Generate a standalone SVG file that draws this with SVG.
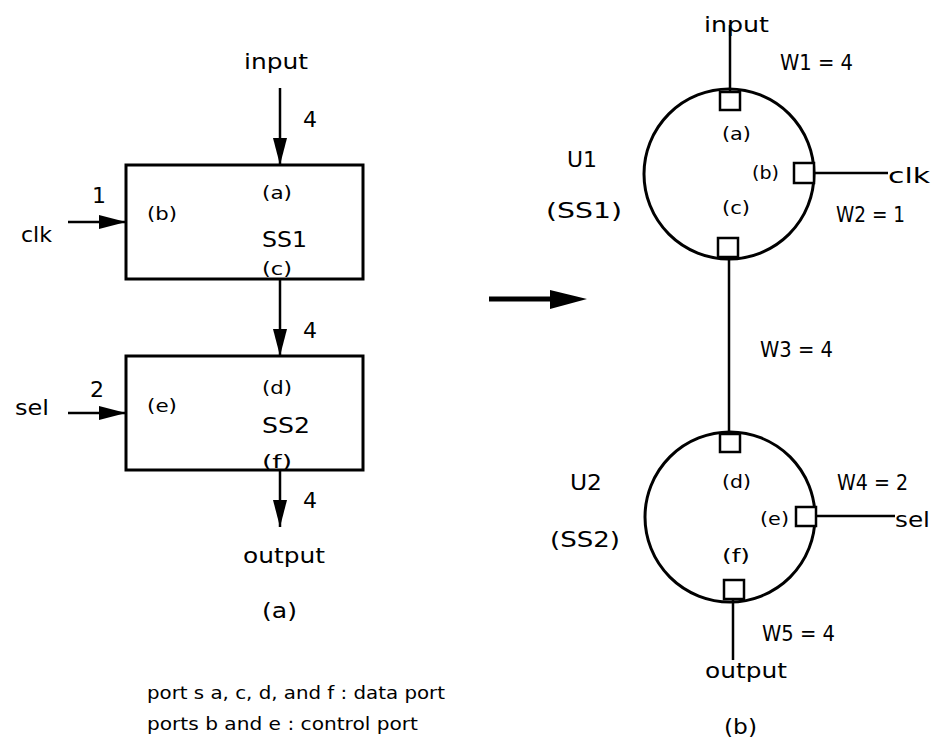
<svg xmlns="http://www.w3.org/2000/svg" width="935" height="742" viewBox="0 0 935 742">
<style>
  text { font-family: "DejaVu Sans", "Liberation Sans", sans-serif; fill: #000; }
  .lg { font-size: 22px; }
  .pt { font-size: 17px; }
  .fn { font-size: 18px; }
  .box { fill: none; stroke: #000; stroke-width: 3; }
  .circ { fill: none; stroke: #000; stroke-width: 3; }
  .sq { fill: #fff; stroke: #000; stroke-width: 2.5; }
  .ln { fill: none; stroke: #000; stroke-width: 2.5; }
  .arr { fill: none; stroke: #000; stroke-width: 2.5; marker-end: url(#ah); }
</style>
<defs>
  <marker id="ah" markerUnits="userSpaceOnUse" markerWidth="27" markerHeight="14" refX="27" refY="7" orient="auto">
    <path d="M0,0 L27,7 L0,14 Z" fill="#000"/>
  </marker>
</defs>
<rect width="935" height="742" fill="#fff"/>

<!-- (a) block diagram -->
<g id="SS1">
  <rect class="box" x="126" y="165" width="237" height="114"/>
  <text class="pt" x="262" y="199" textLength="30" lengthAdjust="spacingAndGlyphs">(a)</text>
  <text class="pt" x="147" y="220" textLength="30" lengthAdjust="spacingAndGlyphs">(b)</text>
  <text class="lg" x="262" y="247" textLength="45" lengthAdjust="spacingAndGlyphs">SS1</text>
  <text class="pt" x="262" y="275" textLength="30" lengthAdjust="spacingAndGlyphs">(c)</text>
</g>
<g id="SS2">
  <rect class="box" x="126" y="356" width="237" height="114"/>
  <text class="pt" x="262" y="394" textLength="30" lengthAdjust="spacingAndGlyphs">(d)</text>
  <text class="pt" x="147" y="412" textLength="30" lengthAdjust="spacingAndGlyphs">(e)</text>
  <text class="lg" x="262" y="433" textLength="48" lengthAdjust="spacingAndGlyphs">SS2</text>
  <text class="pt" x="262" y="468" textLength="30" lengthAdjust="spacingAndGlyphs">(f)</text>
</g>
<g id="left-labels">
  <text class="lg" x="244" y="69" textLength="64" lengthAdjust="spacingAndGlyphs">input</text>
  <text class="lg" x="303" y="127">4</text>
  <text class="lg" x="92" y="203">1</text>
  <text class="lg" x="21" y="242" textLength="31" lengthAdjust="spacingAndGlyphs">clk</text>
  <text class="lg" x="303" y="338">4</text>
  <text class="lg" x="90" y="397">2</text>
  <text class="lg" x="15" y="415" textLength="34" lengthAdjust="spacingAndGlyphs">sel</text>
  <text class="lg" x="303" y="508">4</text>
  <text class="lg" x="243" y="563" textLength="82" lengthAdjust="spacingAndGlyphs">output</text>
  <text class="lg" x="262" y="618" textLength="35" lengthAdjust="spacingAndGlyphs">(a)</text>
  <text class="fn" x="147" y="699" textLength="298" lengthAdjust="spacingAndGlyphs">port s a, c, d, and f : data port</text>
  <text class="fn" x="147" y="730" textLength="271" lengthAdjust="spacingAndGlyphs">ports b and e : control port</text>
</g>
<g id="left-connectors">
  <line class="arr" x1="280" y1="88" x2="280" y2="165"/>
  <line class="arr" x1="68" y1="222" x2="126" y2="222"/>
  <line class="arr" x1="280" y1="279" x2="280" y2="356"/>
  <line class="arr" x1="68" y1="413" x2="126" y2="413"/>
  <line class="arr" x1="280" y1="470" x2="280" y2="527"/>
</g>

<!-- transformation arrow -->
<g id="transform-arrow">
  <line x1="489" y1="299" x2="552" y2="299" stroke="#000" stroke-width="5"/>
  <polygon points="550,290 587,299 550,309" fill="#000"/>
</g>

<!-- (b) graph -->
<g id="connectors">
  <line class="ln" x1="730" y1="25" x2="730" y2="92"/>
  <line class="ln" x1="814" y1="173" x2="888" y2="173"/>
  <line class="ln" x1="729" y1="257" x2="729" y2="433"/>
  <line class="ln" x1="816" y1="516" x2="895" y2="516"/>
  <line class="ln" x1="733" y1="599" x2="733" y2="660"/>
</g>
<g id="U1">
  <circle class="circ" cx="729" cy="174" r="85"/>
  <rect class="sq" x="720" y="92" width="20" height="18"/>
  <rect class="sq" x="794" y="163" width="20" height="20"/>
  <rect class="sq" x="718" y="238" width="20" height="19"/>
  <text class="pt" x="722" y="140" textLength="29" lengthAdjust="spacingAndGlyphs">(a)</text>
  <text class="pt" x="752" y="179" textLength="27" lengthAdjust="spacingAndGlyphs">(b)</text>
  <text class="pt" x="722" y="214" textLength="28" lengthAdjust="spacingAndGlyphs">(c)</text>
  <text class="lg" x="567" y="167" textLength="30" lengthAdjust="spacingAndGlyphs">U1</text>
  <text class="lg" x="546" y="218" textLength="76" lengthAdjust="spacingAndGlyphs">(SS1)</text>
</g>
<g id="U2">
  <circle class="circ" cx="730" cy="517" r="85"/>
  <rect class="sq" x="720" y="434" width="20" height="18"/>
  <rect class="sq" x="796" y="507" width="20" height="19"/>
  <rect class="sq" x="724" y="580" width="20" height="19"/>
  <text class="pt" x="722" y="488" textLength="29" lengthAdjust="spacingAndGlyphs">(d)</text>
  <text class="pt" x="760" y="525" textLength="29" lengthAdjust="spacingAndGlyphs">(e)</text>
  <text class="pt" x="722" y="562" textLength="28" lengthAdjust="spacingAndGlyphs">(f)</text>
  <text class="lg" x="570" y="490" textLength="32" lengthAdjust="spacingAndGlyphs">U2</text>
  <text class="lg" x="550" y="547" textLength="70" lengthAdjust="spacingAndGlyphs">(SS2)</text>
</g>
<g id="right-labels">
  <text class="lg" x="704" y="32" textLength="65" lengthAdjust="spacingAndGlyphs">input</text>
  <text class="lg" x="780" y="70" textLength="73" lengthAdjust="spacingAndGlyphs">W1 = 4</text>
  <text class="lg" x="888" y="183" textLength="42" lengthAdjust="spacingAndGlyphs">clk</text>
  <text class="lg" x="836" y="222" textLength="69" lengthAdjust="spacingAndGlyphs">W2 = 1</text>
  <text class="lg" x="760" y="357" textLength="73" lengthAdjust="spacingAndGlyphs">W3 = 4</text>
  <text class="lg" x="837" y="490" textLength="71" lengthAdjust="spacingAndGlyphs">W4 = 2</text>
  <text class="lg" x="895" y="527" textLength="35" lengthAdjust="spacingAndGlyphs">sel</text>
  <text class="lg" x="762" y="641" textLength="73" lengthAdjust="spacingAndGlyphs">W5 = 4</text>
  <text class="lg" x="705" y="678" textLength="82" lengthAdjust="spacingAndGlyphs">output</text>
  <text class="lg" x="724" y="734" textLength="33" lengthAdjust="spacingAndGlyphs">(b)</text>
</g>
</svg>
